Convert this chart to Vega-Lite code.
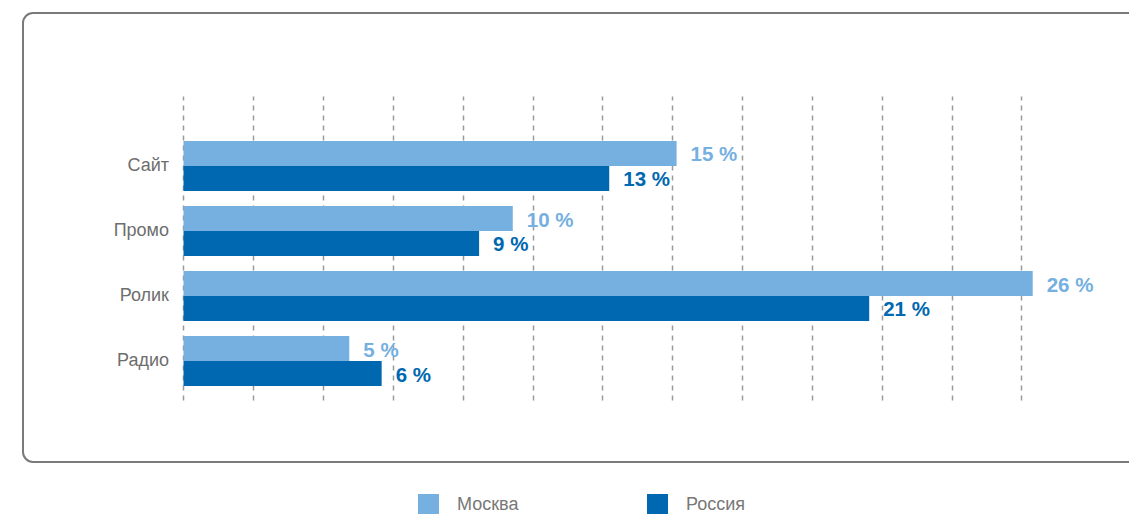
{
  "$schema": "https://vega.github.io/schema/vega-lite/v6.json",
  "width": 1117,
  "height": 449,
  "autosize": {"type": "none"},
  "padding": {"left": 23, "top": 13, "right": -11, "bottom": 52},
  "background": "white",
  "config": {
    "font": "Liberation Sans",
    "view": {"stroke": "#7a7a7a", "strokeWidth": 2, "cornerRadius": 10}
  },
  "data": {
    "values": [
      {"channel": "Сайт", "region": "Москва", "value": 15.08, "label": "15 %"},
      {"channel": "Сайт", "region": "Россия", "value": 13.02, "label": "13 %"},
      {"channel": "Промо", "region": "Москва", "value": 10.07, "label": "10 %"},
      {"channel": "Промо", "region": "Россия", "value": 9.04, "label": "9 %"},
      {"channel": "Ролик", "region": "Москва", "value": 25.97, "label": "26 %"},
      {"channel": "Ролик", "region": "Россия", "value": 20.97, "label": "21 %"},
      {"channel": "Радио", "region": "Москва", "value": 5.07, "label": "5 %"},
      {"channel": "Радио", "region": "Россия", "value": 6.06, "label": "6 %"}
    ]
  },
  "encoding": {
    "y": {
      "field": "channel",
      "type": "nominal",
      "sort": ["Сайт", "Промо", "Ролик", "Радио"],
      "title": null,
      "scale": {"range": [128, 373], "paddingInner": 0.2308, "paddingOuter": 0},
      "axis": {
        "orient": "left",
        "offset": -160.5,
        "domain": false,
        "ticks": false,
        "tickSize": 0,
        "grid": false,
        "labelPadding": 15,
        "labelFontSize": 18,
        "labelColor": "#6e6e6e",
        "labelFont": "Liberation Sans"
      }
    },
    "yOffset": {
      "field": "region",
      "type": "nominal",
      "sort": ["Москва", "Россия"],
      "scale": {"paddingInner": 0, "paddingOuter": 0}
    },
    "x": {
      "field": "value",
      "type": "quantitative",
      "title": null,
      "scale": {"domain": [-4.908, 29.251], "nice": false, "zero": false},
      "axis": {
        "orient": "bottom",
        "offset": -62,
        "values": [0, 2.1352, 4.2704, 6.4056, 8.5408, 10.676, 12.8112, 14.9464, 17.0816, 19.2168, 21.352, 23.4872, 25.6224],
        "grid": false,
        "labels": false,
        "domain": false,
        "ticks": true,
        "tickSize": -304,
        "tickColor": "#9a9a9a",
        "tickWidth": 1.5,
        "tickDash": [5, 5]
      }
    },
    "color": {
      "field": "region",
      "type": "nominal",
      "scale": {"domain": ["Москва", "Россия"], "range": ["#75b0e0", "#0067b1"]},
      "legend": {
        "orient": "none",
        "legendX": 395,
        "legendY": 481,
        "direction": "horizontal",
        "title": null,
        "symbolType": "square",
        "symbolSize": 441,
        "symbolStrokeWidth": 0,
        "labelFontSize": 18,
        "labelColor": "#777777",
        "labelFont": "Liberation Sans",
        "labelOffset": 18,
        "labelBaseline": "middle",
        "columnPadding": 128
      }
    }
  },
  "layer": [
    {"mark": {"type": "bar"}},
    {
      "mark": {"type": "text", "align": "left", "baseline": "middle", "dx": 14, "dy": 2, "fontSize": 20.5, "fontWeight": "bold", "font": "Liberation Sans"},
      "encoding": {"text": {"field": "label"}}
    }
  ]
}
